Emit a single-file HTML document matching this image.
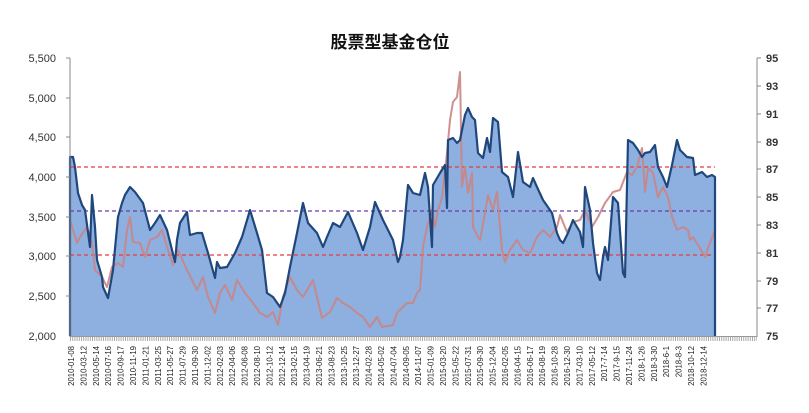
<!DOCTYPE html>
<html><head><meta charset="utf-8"><style>
html,body{margin:0;padding:0;background:#fff;}
svg{display:block;}
text{font-family:"Liberation Sans","Noto Sans CJK SC",sans-serif;}
</style></head><body>
<svg width="809" height="413" viewBox="0 0 809 413" xmlns="http://www.w3.org/2000/svg">
<rect width="809" height="413" fill="#fff"/>
<text x="390" y="48" text-anchor="middle" font-size="17" font-weight="bold" fill="#111" style="font-family:'Noto Sans CJK SC',sans-serif">股票型基金仓位</text>
<path d="M70,336 L70,157 73,157 75,167 78,193 82,205 85,210 90,247 92,195 95,227 97,260 102,277 103,287 108,298 113,270 118,217 122,203 125,195 130,187 135,192 143,203 150,230 155,223 160,215 167,230 175,262 177,240 180,223 187,212 190,235 197,233 202,233 208,253 215,278 217,262 220,268 227,267 235,253 242,237 250,210 257,233 262,250 267,293 273,297 280,307 285,293 290,267 297,233 303,203 308,223 317,233 323,247 327,237 333,223 340,227 348,212 357,233 363,250 370,227 375,202 383,220 393,240 398,262 400,257 403,240 408,185 413,193 420,195 425,173 428,187 432,247 433,185 440,173 445,165 447,208 448,140 453,138 457,143 460,140 465,115 468,108 472,117 475,120 478,153 483,158 487,138 490,152 493,118 498,122 502,172 508,177 513,197 518,152 523,182 530,187 533,178 537,187 543,200 552,213 557,233 560,240 563,243 568,233 573,220 580,232 583,247 585,187 590,210 593,243 597,273 600,280 603,257 605,247 608,260 613,197 618,203 623,273 625,277 628,140 633,143 638,150 642,157 645,153 650,152 655,145 658,167 663,177 667,187 672,165 677,140 680,150 687,157 693,158 695,175 702,172 707,177 712,175 715,177 L715,336 Z" fill="#8db0e0"/>
<line x1="70" y1="167" x2="715" y2="167" stroke="#e83a3a" stroke-width="1.2" stroke-dasharray="4,3"/>
<line x1="70" y1="211" x2="715" y2="211" stroke="#6a3aa8" stroke-width="1.2" stroke-dasharray="4,3"/>
<line x1="70" y1="255" x2="715" y2="255" stroke="#e83a3a" stroke-width="1.2" stroke-dasharray="4,3"/>
<polyline fill="none" stroke="#c98585" stroke-width="2" stroke-linejoin="round" opacity="0.9" points="70,220 77,243 80,237 87,227 92,243 95,270 102,277 107,287 112,267 118,263 123,267 127,230 130,217 133,242 140,243 145,257 150,240 157,237 162,230 167,247 173,265 178,250 187,270 197,290 203,277 208,297 215,313 220,293 225,285 232,300 237,280 245,293 253,303 260,313 267,317 273,312 278,325 283,297 290,277 297,290 303,297 313,280 322,318 330,312 337,298 343,303 350,307 357,313 363,317 370,327 377,317 382,327 393,325 397,313 400,310 407,303 413,303 417,293 420,290 423,247 427,227 432,210 435,227 438,210 442,198 447,153 450,120 453,102 457,97 460,72 462,187 465,167 468,193 472,173 473,227 478,237 480,240 485,213 488,195 493,210 497,192 502,250 505,262 510,250 517,240 523,250 530,253 537,237 543,230 550,237 557,227 560,215 567,232 573,222 580,220 585,210 592,227 598,217 605,203 613,192 620,190 627,172 632,175 637,167 642,148 645,192 648,168 653,173 658,197 663,187 668,197 672,217 677,230 683,227 688,230 690,240 693,237 698,245 705,257 708,248 715,230"/>
<polyline fill="none" stroke="#1f477c" stroke-width="2.2" stroke-linejoin="round" points="70,336 70,157 73,157 75,167 78,193 82,205 85,210 90,247 92,195 95,227 97,260 102,277 103,287 108,298 113,270 118,217 122,203 125,195 130,187 135,192 143,203 150,230 155,223 160,215 167,230 175,262 177,240 180,223 187,212 190,235 197,233 202,233 208,253 215,278 217,262 220,268 227,267 235,253 242,237 250,210 257,233 262,250 267,293 273,297 280,307 285,293 290,267 297,233 303,203 308,223 317,233 323,247 327,237 333,223 340,227 348,212 357,233 363,250 370,227 375,202 383,220 393,240 398,262 400,257 403,240 408,185 413,193 420,195 425,173 428,187 432,247 433,185 440,173 445,165 447,208 448,140 453,138 457,143 460,140 465,115 468,108 472,117 475,120 478,153 483,158 487,138 490,152 493,118 498,122 502,172 508,177 513,197 518,152 523,182 530,187 533,178 537,187 543,200 552,213 557,233 560,240 563,243 568,233 573,220 580,232 583,247 585,187 590,210 593,243 597,273 600,280 603,257 605,247 608,260 613,197 618,203 623,273 625,277 628,140 633,143 638,150 642,157 645,153 650,152 655,145 658,167 663,177 667,187 672,165 677,140 680,150 687,157 693,158 695,175 702,172 707,177 712,175 715,177 715,336"/>
<line x1="70" y1="58" x2="70" y2="337" stroke="#888" stroke-width="1"/>
<line x1="757" y1="58" x2="757" y2="337" stroke="#888" stroke-width="1"/>
<line x1="70" y1="336.5" x2="757" y2="336.5" stroke="#999" stroke-width="1"/>
<line x1="70" y1="339" x2="757" y2="339" stroke="#aaa" stroke-width="4" stroke-dasharray="1,1.2"/>
<g stroke="#888" stroke-width="1">
<line x1="66" y1="58" x2="70" y2="58"/><line x1="66" y1="98" x2="70" y2="98"/><line x1="66" y1="137" x2="70" y2="137"/><line x1="66" y1="177" x2="70" y2="177"/><line x1="66" y1="217" x2="70" y2="217"/><line x1="66" y1="256" x2="70" y2="256"/><line x1="66" y1="296" x2="70" y2="296"/>
<line x1="757" y1="58" x2="761" y2="58"/><line x1="757" y1="86" x2="761" y2="86"/><line x1="757" y1="114" x2="761" y2="114"/><line x1="757" y1="142" x2="761" y2="142"/><line x1="757" y1="169" x2="761" y2="169"/><line x1="757" y1="197" x2="761" y2="197"/><line x1="757" y1="225" x2="761" y2="225"/><line x1="757" y1="253" x2="761" y2="253"/><line x1="757" y1="281" x2="761" y2="281"/><line x1="757" y1="308" x2="761" y2="308"/>
</g>
<g font-size="11" fill="#333" text-anchor="end">
<text x="56" y="62">5,500</text><text x="56" y="102">5,000</text><text x="56" y="141">4,500</text><text x="56" y="181">4,000</text><text x="56" y="221">3,500</text><text x="56" y="260">3,000</text><text x="56" y="300">2,500</text><text x="56" y="340">2,000</text>
</g>
<g font-size="11" font-weight="bold" fill="#333">
<text x="766" y="62">95</text><text x="766" y="90">93</text><text x="766" y="118">91</text><text x="766" y="146">89</text><text x="766" y="173">87</text><text x="766" y="201">85</text><text x="766" y="229">83</text><text x="766" y="257">81</text><text x="766" y="285">79</text><text x="766" y="312">77</text><text x="766" y="340">75</text>
</g>
<g font-size="7.8" fill="#222" text-anchor="end">
<text transform="translate(74.0,346) rotate(-90)">2010-01-08</text>
<text transform="translate(86.4,346) rotate(-90)">2010-03-12</text>
<text transform="translate(98.8,346) rotate(-90)">2010-05-14</text>
<text transform="translate(111.2,346) rotate(-90)">2010-07-16</text>
<text transform="translate(123.6,346) rotate(-90)">2010-09-17</text>
<text transform="translate(136.0,346) rotate(-90)">2010-11-19</text>
<text transform="translate(148.4,346) rotate(-90)">2011-01-21</text>
<text transform="translate(160.8,346) rotate(-90)">2011-03-25</text>
<text transform="translate(173.2,346) rotate(-90)">2011-05-27</text>
<text transform="translate(185.6,346) rotate(-90)">2011-07-29</text>
<text transform="translate(198.0,346) rotate(-90)">2011-09-30</text>
<text transform="translate(210.4,346) rotate(-90)">2011-12-02</text>
<text transform="translate(222.8,346) rotate(-90)">2012-02-03</text>
<text transform="translate(235.2,346) rotate(-90)">2012-04-06</text>
<text transform="translate(247.6,346) rotate(-90)">2012-06-08</text>
<text transform="translate(260.0,346) rotate(-90)">2012-08-10</text>
<text transform="translate(272.4,346) rotate(-90)">2012-10-12</text>
<text transform="translate(284.8,346) rotate(-90)">2012-12-14</text>
<text transform="translate(297.2,346) rotate(-90)">2013-02-15</text>
<text transform="translate(309.6,346) rotate(-90)">2013-04-19</text>
<text transform="translate(322.0,346) rotate(-90)">2013-06-21</text>
<text transform="translate(334.4,346) rotate(-90)">2013-08-23</text>
<text transform="translate(346.8,346) rotate(-90)">2013-10-25</text>
<text transform="translate(359.2,346) rotate(-90)">2013-12-27</text>
<text transform="translate(371.6,346) rotate(-90)">2014-02-28</text>
<text transform="translate(384.0,346) rotate(-90)">2014-05-02</text>
<text transform="translate(396.4,346) rotate(-90)">2014-07-04</text>
<text transform="translate(408.8,346) rotate(-90)">2014-09-05</text>
<text transform="translate(421.2,346) rotate(-90)">2014-11-07</text>
<text transform="translate(433.6,346) rotate(-90)">2015-01-09</text>
<text transform="translate(446.0,346) rotate(-90)">2015-03-20</text>
<text transform="translate(458.4,346) rotate(-90)">2015-05-22</text>
<text transform="translate(470.8,346) rotate(-90)">2015-07-31</text>
<text transform="translate(483.2,346) rotate(-90)">2015-09-30</text>
<text transform="translate(495.6,346) rotate(-90)">2015-12-04</text>
<text transform="translate(508.0,346) rotate(-90)">2016-02-05</text>
<text transform="translate(520.4,346) rotate(-90)">2016-04-15</text>
<text transform="translate(532.8,346) rotate(-90)">2016-06-17</text>
<text transform="translate(545.2,346) rotate(-90)">2016-08-19</text>
<text transform="translate(557.6,346) rotate(-90)">2016-10-28</text>
<text transform="translate(570.0,346) rotate(-90)">2016-12-30</text>
<text transform="translate(582.4,346) rotate(-90)">2017-03-10</text>
<text transform="translate(594.8,346) rotate(-90)">2017-05-12</text>
<text transform="translate(607.2,346) rotate(-90)">2017-7-14</text>
<text transform="translate(619.6,346) rotate(-90)">2017-9-15</text>
<text transform="translate(632.0,346) rotate(-90)">2017-11-24</text>
<text transform="translate(644.4,346) rotate(-90)">2018-1-26</text>
<text transform="translate(656.8,346) rotate(-90)">2018-3-30</text>
<text transform="translate(669.2,346) rotate(-90)">2018-6-1</text>
<text transform="translate(681.6,346) rotate(-90)">2018-8-3</text>
<text transform="translate(694.0,346) rotate(-90)">2018-10-12</text>
<text transform="translate(706.4,346) rotate(-90)">2018-12-14</text>
</g>
</svg>
</body></html>
